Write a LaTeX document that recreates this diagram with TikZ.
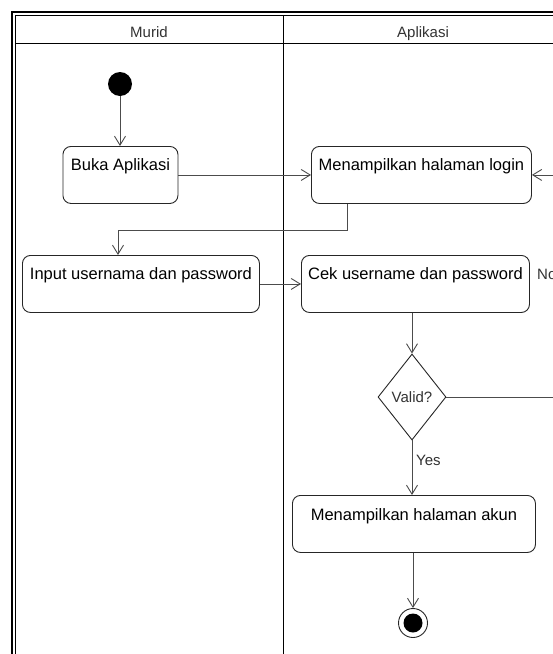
\documentclass[tikz,border=0pt]{standalone}
\usepackage{fontspec}
\setmainfont{Liberation Sans}
\usetikzlibrary{arrows.meta,shapes.geometric}
\begin{document}
\begin{tikzpicture}[x=1pt,y=-1pt,
  actbox/.style={draw=black!85, line width=0.9pt, rounded corners=8pt, minimum height=57pt, inner sep=0pt, anchor=north west},
  acttext/.style={anchor=base, inner sep=0pt, font=\fontsize{16.5}{19}\selectfont},
  lbl/.style={anchor=base west, inner sep=0pt, text=black!80, font=\fontsize{15}{18}\selectfont},
  hdr/.style={anchor=base, inner sep=0pt, text=black!80, font=\fontsize{15}{18}\selectfont},
  conn/.style={draw=black!70, line width=0.9pt, -{Straight Barb[length=9pt,width=11pt,line width=0.9pt]}},
  decision/.style={diamond, draw=black!85, line width=0.9pt, minimum width=68pt, minimum height=86pt, inner sep=0pt, text=black!80, font=\fontsize{15}{18}\selectfont},
  frameline/.style={draw=black, line width=2pt},
  thinline/.style={draw=black, line width=1pt}
]
\useasboundingbox (0,0) rectangle (553,654);
\clip (0,0) rectangle (553,654);
\fill[white] (0,0) rectangle (553,654);

% swimlane frame
\draw[frameline] (12,654) -- (12,12) -- (553,12);
\draw[thinline] (15.5,654) -- (15.5,15.5) -- (553,15.5);
\draw[draw=black, line width=1.6pt] (15.5,43.5) -- (553,43.5);
\draw[thinline] (283,15.5) -- (283,654);
\node[hdr] (murid) at (149,37) {Murid};
\node[hdr] (aplikasi) at (423,37) {Aplikasi};

% nodes
\node[circle, fill=black, minimum size=24pt, inner sep=0pt] (init) at (120,84) {};
\node[actbox, minimum width=115pt] (buka) at (62.5,146) {};
\node[acttext] (bukat) at (buka.north |- 0,170) {Buka Aplikasi};
\node[actbox, minimum width=220pt] (login) at (311,146) {};
\node[acttext] (logint) at (login.north |- 0,170) {Menampilkan halaman login};
\node[actbox, minimum width=237pt] (inp) at (22,255) {};
\node[acttext] (inpt) at (inp.north |- 0,279) {Input usernama dan password};
\node[actbox, minimum width=228pt] (cek) at (301,255) {};
\node[acttext] (cekt) at (cek.north |- 0,279) {Cek username dan password};
\node[decision] (dia) at (412,397) {Valid?};
\node[actbox, minimum width=243pt] (akun) at (292,495) {};
\node[acttext] (akunt) at (akun.north |- 0,520) {Menampilkan halaman akun};
\node[circle, draw=black!85, line width=0.9pt, minimum size=29pt, inner sep=0pt] (final) at (413,623) {};
\node[circle, fill=black, minimum size=19pt, inner sep=0pt] (finalin) at (final.center) {};

% connectors
\draw[conn] (init) -- (init |- buka.north);
\draw[conn] (buka.east) -- (login.west);
\draw[conn] ([xshift=36pt]login.south west) -- ++(0,27) -| ([xshift=96pt]inp.north west);
\draw[conn] (inp.east) -- (cek.west);
\draw[conn] (cek.south -| dia.north) -- (dia.north);
\draw[conn] (dia.south) -- (dia.south |- akun.north);
\draw[conn] (akun.south -| final.north) -- (final.north);
\coordinate (loopx) at (565,397);
\draw[conn] (dia.east) -- (loopx) |- (login.east);
\node[lbl] (yes) at (416,465) {Yes};
\node[lbl] (no) at (537,279) {No};
\end{tikzpicture}
\end{document}
